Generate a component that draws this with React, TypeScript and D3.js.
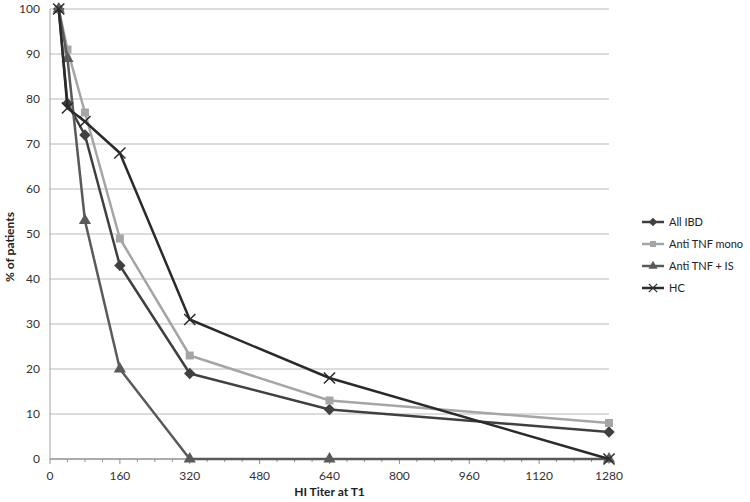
import { useEffect, useRef } from 'react';
import * as d3 from 'd3';

const titers = [20, 40, 80, 160, 320, 640, 1280];
const allIbd = [100, 79, 72, 43, 19, 11, 6];
const antiTnfMono = [100, 91, 77, 49, 23, 13, 8];
const antiTnfIs = [100, 89, 53, 20, 0, 0, 0];
const hc = [100, 78, 75, 68, 31, 18, 0];

const seriesNames = ['All IBD', 'Anti TNF mono', 'Anti TNF + IS', 'HC'];
const xTicks = [0, 160, 320, 480, 640, 800, 960, 1120, 1280];
const yTicks = [0, 10, 20, 30, 40, 50, 60, 70, 80, 90, 100];

const FONT = 'Lato, "Open Sans", sans-serif';

export default function App() {
  const svgRef = useRef<SVGSVGElement | null>(null);

  useEffect(() => {
    const svg = d3.select(svgRef.current);
    svg.selectAll('*').remove();

    const width = 750;
    const height = 502;
    const margin = { top: 9, right: 141, bottom: 43, left: 50 };
    svg.attr('viewBox', `0 0 ${width} ${height}`);

    const x = d3.scaleLinear().domain([0, 1280]).range([margin.left, width - margin.right]);
    const y = d3.scaleLinear().domain([0, 100]).range([height - margin.bottom, margin.top]);

    const series = [
      { name: seriesNames[0], values: allIbd, color: '#404040', marker: 'diamond' },
      { name: seriesNames[1], values: antiTnfMono, color: '#a5a5a5', marker: 'square' },
      { name: seriesNames[2], values: antiTnfIs, color: '#5a5a5a', marker: 'triangle' },
      { name: seriesNames[3], values: hc, color: '#2a2a2a', marker: 'x' },
    ];

    // gridlines
    svg.append('g')
      .selectAll('line')
      .data(yTicks.filter(t => t > 0))
      .join('line')
      .attr('x1', x(0)).attr('x2', x(1280))
      .attr('y1', d => y(d)).attr('y2', d => y(d))
      .attr('stroke', '#b8b8b8').attr('stroke-width', 1);

    // y axis
    svg.append('line')
      .attr('x1', x(0)).attr('x2', x(0))
      .attr('y1', y(0)).attr('y2', y(100))
      .attr('stroke', '#a0a0a0');
    svg.append('g')
      .selectAll('text')
      .data(yTicks)
      .join('text')
      .attr('x', x(0) - 10)
      .attr('y', d => y(d))
      .attr('dy', '0.35em')
      .attr('text-anchor', 'end')
      .attr('font-family', FONT)
      .attr('font-size', 12)
      .attr('fill', '#333')
      .text(d => d);

    // x axis with minor ticks
    const xAxis = svg.append('g').attr('transform', `translate(0, ${y(0)})`);
    xAxis.append('line')
      .attr('x1', x(0)).attr('x2', x(1280))
      .attr('stroke', '#909090').attr('stroke-width', 1.5);
    xAxis.selectAll('line.minor')
      .data(d3.range(0, 1281, 40))
      .join('line')
      .attr('class', 'minor')
      .attr('x1', d => x(d)).attr('x2', d => x(d))
      .attr('y1', 0).attr('y2', d => (d % 160 === 0 ? 5 : 3))
      .attr('stroke', '#909090');
    xAxis.selectAll('text')
      .data(xTicks)
      .join('text')
      .attr('x', d => x(d))
      .attr('y', 21)
      .attr('text-anchor', 'middle')
      .attr('font-family', FONT)
      .attr('font-size', 12)
      .attr('fill', '#333')
      .text(d => d);

    // axis titles
    svg.append('text')
      .attr('x', (x(0) + x(1280)) / 2)
      .attr('y', 496)
      .attr('text-anchor', 'middle')
      .attr('font-family', FONT)
      .attr('font-weight', 'bold')
      .attr('font-size', 12)
      .attr('fill', '#222')
      .text('HI Titer at T1');
    svg.append('text')
      .attr('transform', `translate(14, 247) rotate(-90)`)
      .attr('text-anchor', 'middle')
      .attr('font-family', FONT)
      .attr('font-weight', 'bold')
      .attr('font-size', 12)
      .attr('fill', '#222')
      .text('% of patients');

    const symbolFor = (m: string, size: number) => {
      if (m === 'diamond') return d3.symbol().type(d3.symbolDiamond2).size(size * 1.3)();
      if (m === 'square') return d3.symbol().type(d3.symbolSquare).size(size)();
      if (m === 'triangle') return d3.symbol().type(d3.symbolTriangle).size(size)();
      return d3.symbol().type(d3.symbolX).size(size * 1.3)();
    };

    const line = d3.line<number>()
      .x((_, i) => x(titers[i]))
      .y(d => y(d));

    for (const s of series) {
      const g = svg.append('g');
      g.append('path')
        .attr('d', line(s.values))
        .attr('fill', 'none')
        .attr('stroke', s.color)
        .attr('stroke-width', 2.5)
        .attr('stroke-linejoin', 'round');
      g.selectAll('path.mk')
        .data(s.values)
        .join('path')
        .attr('class', 'mk')
        .attr('transform', (d, i) => `translate(${x(titers[i])}, ${y(d)})`)
        .attr('d', symbolFor(s.marker, 64))
        .attr('fill', s.marker === 'x' ? 'none' : s.color)
        .attr('stroke', s.color)
        .attr('stroke-width', s.marker === 'x' ? 1.5 : 0);
    }

    // legend
    const legend = svg.append('g');
    series.forEach((s, i) => {
      const ly = 222 + i * 22;
      legend.append('line')
        .attr('x1', 642).attr('x2', 664)
        .attr('y1', ly).attr('y2', ly)
        .attr('stroke', s.color).attr('stroke-width', 2.5);
      legend.append('path')
        .attr('transform', `translate(653, ${ly})`)
        .attr('d', symbolFor(s.marker, 36))
        .attr('fill', s.marker === 'x' ? 'none' : s.color)
        .attr('stroke', s.color)
        .attr('stroke-width', s.marker === 'x' ? 1.2 : 0);
      legend.append('text')
        .attr('x', 669)
        .attr('y', ly)
        .attr('dy', '0.35em')
        .attr('font-family', FONT)
        .attr('font-size', 11)
        .attr('fill', '#222')
        .text(s.name);
    });
  }, []);

  return (
    <div style={{ position: 'absolute', top: 0, left: 0, width: 750, height: 502, background: '#fff' }}>
      <svg ref={svgRef} width={750} height={502} style={{ display: 'block' }} />
    </div>
  );
}
